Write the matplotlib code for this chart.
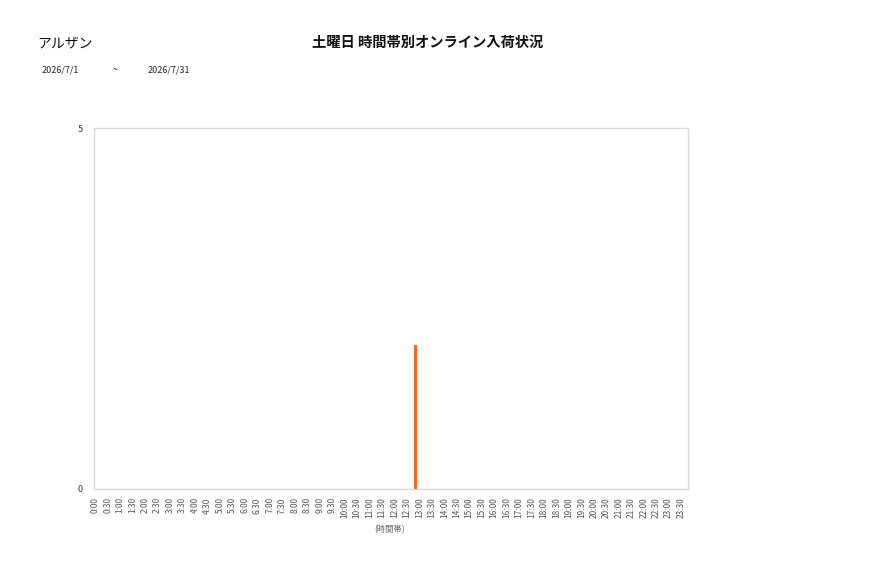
import matplotlib
matplotlib.use("Agg")
import matplotlib.pyplot as plt
from matplotlib.transforms import ScaledTranslation

plt.rcParams['font.family'] = ['Noto Sans CJK JP', 'DejaVu Sans']

store = "アルザン"
title = "土曜日 時間帯別オンライン入荷状況"
date_from = "2026/7/1"
date_to = "2026/7/31"
xlabel = "(時間帯)"

time_slots = [f"{h}:{m:02d}" for h in range(24) for m in (0, 30)]
values = [0] * 48
values[26] = 2  # 13:00

fig = plt.figure(figsize=(8.77, 5.78), dpi=100)
ax = fig.add_axes([94/877, 1-489/578, (688-94)/877, (489-128)/578])

x = list(range(len(time_slots)))
bars = ax.bar(x, values, width=0.24, color="#F26A1B", zorder=3)
shift = ScaledTranslation(-4/100, 0, fig.dpi_scale_trans)
for b in bars:
    b.set_transform(ax.transData + shift)

ax.set_xlim(-0.1, 47.55)
ax.set_ylim(0, 5)
ax.set_yticks([0, 5])
ax.set_yticklabels(["0", "5"], fontsize=6.5, color="#333333")
ax.set_xticks(x)
ax.set_xticklabels(time_slots, rotation=90, fontsize=6, color="#555555")
ax.tick_params(axis='x', length=0, pad=6)
ax.tick_params(axis='y', length=0, pad=8)
for s in ax.spines.values():
    s.set_color("#D9D9D9")
    s.set_linewidth(1)

ax.set_xlabel(xlabel, fontsize=6, color="#666666")
ax.xaxis.set_label_coords((390-94)/(688-94), -0.1)

fig.text(37/877, 1-43/578, store, fontsize=10, va='center', ha='left', color="#111111")
fig.text(428/877, 1-43/578, title, fontsize=10.3, va='center', ha='center', color="#111111", fontweight='bold')
fig.text(42/877, 1-70/578, date_from, fontsize=6.5, va='center', ha='left', color="#222222")
fig.text(115/877, 1-70/578, "~", fontsize=6.5, va='center', ha='center', color="#222222")
fig.text(148/877, 1-70/578, date_to, fontsize=6.5, va='center', ha='left', color="#222222")

fig.savefig("out.png", dpi=100)
